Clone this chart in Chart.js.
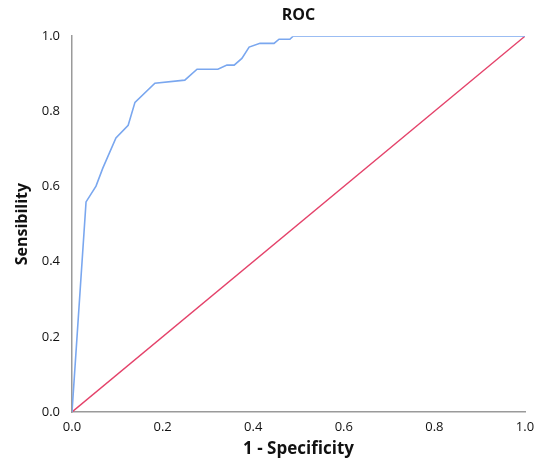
<!DOCTYPE html>
<html>
<head>
<meta charset="utf-8">
<script src="https://cdn.jsdelivr.net/npm/chart.js@4"></script>
<style>
  html, body { margin: 0; padding: 0; background: #fff; }
  #wrap { width: 535px; height: 459px; }
</style>
</head>
<body>
<div id="wrap"><canvas id="rocChart"></canvas></div>
<script>
// ROC curve points
const fprValues = [0, 0.031, 0.053, 0.068, 0.097, 0.124, 0.139, 0.183, 0.249, 0.276, 0.322, 0.342, 0.358, 0.375, 0.391, 0.415, 0.446, 0.457, 0.481, 0.488, 1.0];
const tprValues = [0, 0.559, 0.601, 0.649, 0.729, 0.763, 0.824, 0.875, 0.883, 0.912, 0.912, 0.923, 0.923, 0.941, 0.971, 0.981, 0.981, 0.992, 0.992, 1.0, 1.0];

// reference line
const refX = [0, 1];
const refY = [0, 1];

const xTicks = [0, 0.2, 0.4, 0.6, 0.8, 1.0];
const yTicks = [0, 0.2, 0.4, 0.6, 0.8, 1.0];

const toPoints = (xs, ys) => xs.map((x, i) => ({ x: x, y: ys[i] }));

const fontFamily = "'Open Sans', 'Liberation Sans', sans-serif";

const ctx = document.getElementById('rocChart').getContext('2d');
const rocChart = new Chart(ctx, {
    type: 'scatter',
    data: {
        datasets: [
            { label: 'ROC', data: toPoints(fprValues, tprValues), showLine: true, borderColor: '#7aa7ef', borderWidth: 1.6, pointRadius: 0, fill: false },
            { label: 'Reference', data: toPoints(refX, refY), showLine: true, borderColor: '#e4426a', borderWidth: 1.4, pointRadius: 0, fill: false }
        ]
    },
    options: {
        responsive: true,
        maintainAspectRatio: false,
        animation: false,
        layout: { padding: { left: 0, right: 0, top: 0, bottom: 0 } },
        plugins: {
            legend: { display: false },
            tooltip: { enabled: false },
            title: {
                display: true, text: 'ROC', fullSize: false, color: '#111',
                font: { family: fontFamily, size: 16, weight: 'bold' },
                padding: { top: 6, bottom: 11 }
            }
        },
        scales: {
            x: {
                type: 'linear', min: 0, max: 1,
                afterBuildTicks: s => { s.ticks = xTicks.map(v => ({ value: v })); },
                afterFit: s => { s.height = 47; s.paddingRight = 10; s.paddingLeft = 0; },
                grid: { display: false, drawTicks: false },
                border: { display: true, color: '#9a9a9a', width: 1.5 },
                ticks: { color: '#111', padding: 7, font: { family: fontFamily, size: 13 }, callback: v => v.toFixed(1) },
                title: { display: true, text: '1 - Specificity', color: '#111', padding: { top: 2, bottom: 0 }, font: { family: fontFamily, size: 17, weight: 'bold' } }
            },
            y: {
                type: 'linear', min: 0, max: 1,
                afterBuildTicks: s => { s.ticks = yTicks.map(v => ({ value: v })); },
                afterFit: s => { s.width = 72; },
                grid: { display: false, drawTicks: false },
                border: { display: true, color: '#9a9a9a', width: 1.5 },
                ticks: { color: '#111', padding: 12, font: { family: fontFamily, size: 13 }, callback: v => v.toFixed(1) },
                title: { display: true, text: 'Sensibility', color: '#111', padding: { top: 13, bottom: 0 }, font: { family: fontFamily, size: 16, weight: 'bold' } }
            }
        }
    }
});
</script>
</body>
</html>
